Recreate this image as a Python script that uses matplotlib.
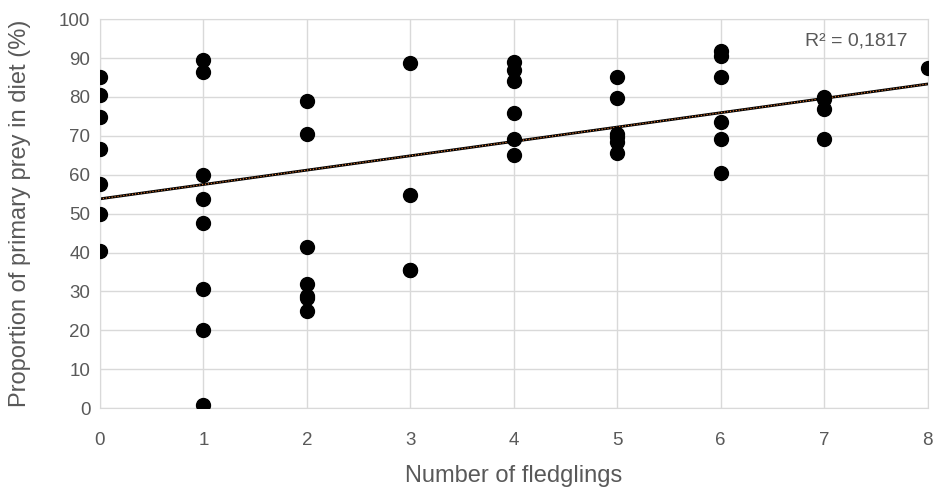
import matplotlib.pyplot as plt
import numpy as np

plt.rcParams['font.family'] = ['Liberation Sans', 'DejaVu Sans']

# fledglings and proportion of primary prey (%)
fledglings = [0, 0, 0, 0, 0, 0, 0,
              1, 1, 1, 1, 1, 1, 1, 1,
              2, 2, 2, 2, 2, 2, 2,
              3, 3, 3, 3,
              4, 4, 4, 4, 4, 4,
              5, 5, 5, 5, 5, 5,
              6, 6, 6, 6, 6, 6,
              7, 7, 7, 7,
              8]
prey_pct = [85.1, 80.5, 74.9, 66.5, 57.7, 49.8, 40.4,
            89.5, 86.3, 59.9, 53.8, 47.5, 30.7, 20.1, 0.8,
            79.0, 70.5, 41.5, 32.0, 28.8, 28.2, 25.0,
            88.7, 54.9, 35.6, 35.4,
            88.9, 86.8, 84.1, 75.8, 69.3, 65.2,
            85.0, 79.7, 70.4, 69.6, 68.3, 65.5,
            91.9, 90.4, 85.2, 73.6, 69.1, 60.4,
            80.1, 79.4, 76.9, 69.3,
            87.4]
# trendline as drawn in the source chart
trend_intercept = 53.8
trend_slope = 3.69
r2_label = "R² = 0,1817"

x = np.array(fledglings, dtype=float)
y = np.array(prey_pct, dtype=float)

fig = plt.figure(figsize=(9.37, 4.9), dpi=100)
ax = fig.add_axes([0.1067, 0.167, 0.8833, 0.794])

ax.scatter(x, y, s=100, color='black', zorder=3)
xl = np.array([0, 8])
ax.plot(xl, trend_intercept + trend_slope * xl, color='black', lw=2, zorder=2)
ax.plot(xl, trend_intercept + trend_slope * xl, color='#ED7D31', lw=0.8, ls=':', zorder=2)

ax.set_xlim(0, 8)
ax.set_ylim(0, 100)
ax.set_xticks(range(0, 9))
ax.set_yticks(range(0, 101, 10))
ax.grid(True, color='#d9d9d9', lw=1)
ax.set_axisbelow(True)
for sp in ax.spines.values():
    sp.set_color('#d9d9d9')
ax.tick_params(length=0, colors='#595959', labelsize=13.5)
ax.tick_params(axis='x', pad=17)
ax.tick_params(axis='y', pad=7)

ax.set_xlabel("Number of fledglings", fontsize=17, color='#595959', labelpad=12)
ax.set_ylabel("Proportion of primary prey in diet (%)", fontsize=17, color='#595959', labelpad=20)

ax.text(0.976, 0.965, r2_label, transform=ax.transAxes, ha='right', va='top',
        fontsize=14, color='#595959')

fig.savefig('out.png', dpi=100)
